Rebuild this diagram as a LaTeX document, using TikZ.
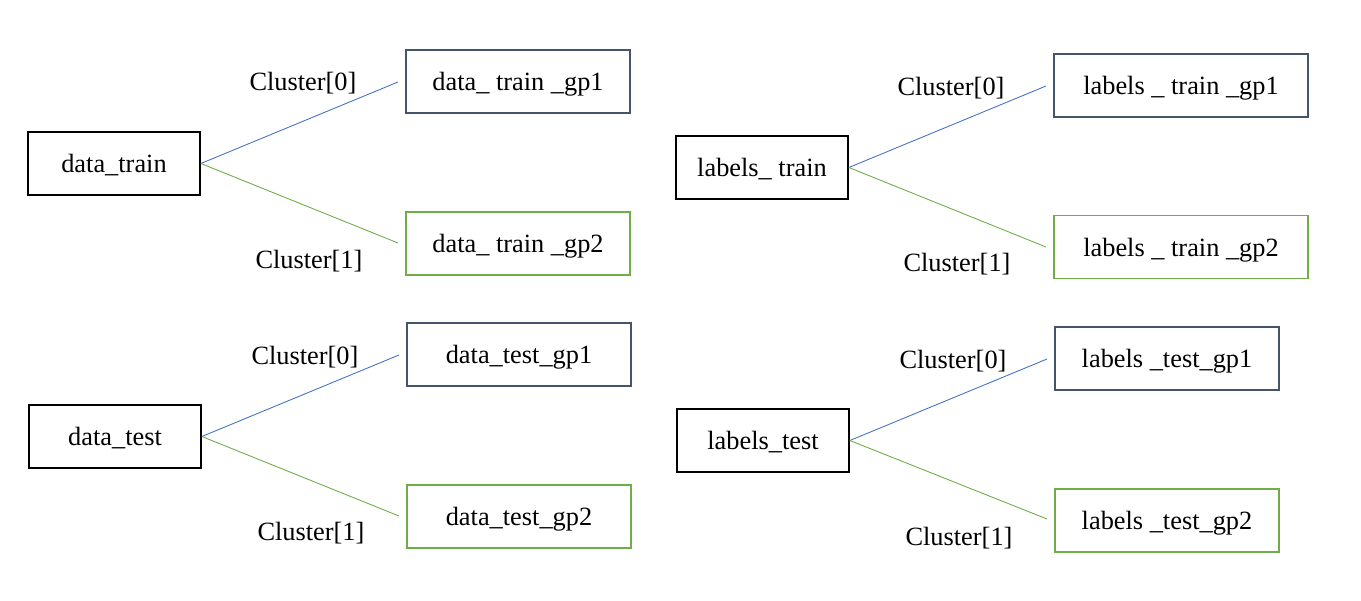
\documentclass[tikz,border=0pt]{standalone}
\usepackage{fontspec}
\setmainfont{Liberation Serif}
\usepackage{xcolor}
\usetikzlibrary{positioning}
\definecolor{cblue}{HTML}{4472C4}
\definecolor{cgreen}{HTML}{70AD47}
\definecolor{cslate}{HTML}{44546A}

\begin{document}
\begin{tikzpicture}[
    x=0.02cm, y=-0.02cm,
    font=\fontsize{15}{18}\selectfont,
    src/.style={
        rectangle, draw=black, line width=1pt, fill=white,
        minimum width=3.44cm, minimum height=1.26cm, inner sep=2pt,
        text depth=0pt
    },
    gpone/.style={src, draw=cslate},
    gptwo/.style={src, draw=cgreen},
    blink/.style={draw=cblue, line width=0.5pt},
    glink/.style={draw=cgreen, line width=0.5pt},
    elabel/.style={inner sep=1pt, text depth=0pt},
]
\useasboundingbox (0,0) rectangle (1361,601);

% =====================================================================
% Top left: data_train
% =====================================================================
\node[src]                         (dtr)  at (114,163.5) {data\_train};
\node[gpone, minimum width=4.48cm] (dtr1) at (518,81.5)  {data\_ train \_gp1};
\node[gptwo, minimum width=4.48cm] (dtr2) at (518,243.5) {data\_ train \_gp2};
\coordinate (dtr1e) at (398,82);
\coordinate (dtr2e) at (398,243);
\draw[blink] (dtr.east) -- (dtr1e);
\draw[glink] (dtr.east) -- (dtr2e);
\node[elabel] (dtrc0) at (303,81)  {Cluster[0]};
\node[elabel] (dtrc1) at (309,259) {Cluster[1]};

% =====================================================================
% Top right: labels_ train
% =====================================================================
\node[src]                         (ltr)  at (762,167.5) {labels\_ train};
\node[gpone, minimum width=5.08cm] (ltr1) at (1181,85.5)  {labels \_ train \_gp1};
\node[gptwo, minimum width=5.08cm] (ltr2) at (1181,247)   {labels \_ train \_gp2};
\coordinate (ltr1e) at (1046,86);
\coordinate (ltr2e) at (1046,247);
\draw[blink] (ltr.east) -- (ltr1e);
\draw[glink] (ltr.east) -- (ltr2e);
\node[elabel] (ltrc0) at (951,86)  {Cluster[0]};
\node[elabel] (ltrc1) at (957,262) {Cluster[1]};

% =====================================================================
% Bottom left: data_test
% =====================================================================
\node[src]                         (dte)  at (115,436.5) {data\_test};
\node[gpone, minimum width=4.48cm] (dte1) at (519,354.5) {data\_test\_gp1};
\node[gptwo, minimum width=4.48cm] (dte2) at (519,516.5) {data\_test\_gp2};
\coordinate (dte1e) at (399,355);
\coordinate (dte2e) at (399,516);
\draw[blink] (dte.east) -- (dte1e);
\draw[glink] (dte.east) -- (dte2e);
\node[elabel] (dtec0) at (305,355) {Cluster[0]};
\node[elabel] (dtec1) at (311,531) {Cluster[1]};

% =====================================================================
% Bottom right: labels_test
% =====================================================================
\node[src]                         (lte)  at (763,440.5)  {labels\_test};
\node[gpone, minimum width=4.48cm] (lte1) at (1167,358.5) {labels \_test\_gp1};
\node[gptwo, minimum width=4.48cm] (lte2) at (1167,520.5) {labels \_test\_gp2};
\coordinate (lte1e) at (1047,359);
\coordinate (lte2e) at (1047,519);
\draw[blink] (lte.east) -- (lte1e);
\draw[glink] (lte.east) -- (lte2e);
\node[elabel] (ltec0) at (953,359) {Cluster[0]};
\node[elabel] (ltec1) at (959,536) {Cluster[1]};

\end{tikzpicture}
\end{document}
